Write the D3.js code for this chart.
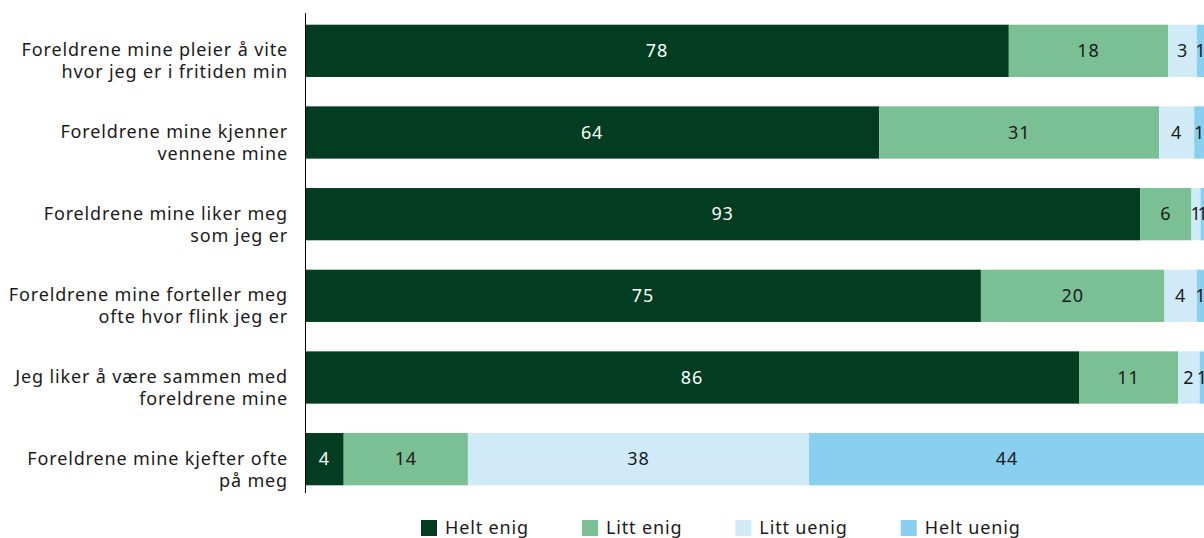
<!DOCTYPE html>
<html>
<head>
<meta charset="utf-8">
<script src="https://cdn.jsdelivr.net/npm/d3@7"></script>
<style>
  body { margin: 0; background: #fff; }
  svg { display: block; font-family: "Noto Sans", sans-serif; letter-spacing: 0.85px; }
</style>
</head>
<body>
<div id="chart"></div>
<script>
// categories (each label split in two lines)
const statements = [
    ["Foreldrene mine pleier å vite", "hvor jeg er i fritiden min"],
    ["Foreldrene mine kjenner", "vennene mine"],
    ["Foreldrene mine liker meg", "som jeg er"],
    ["Foreldrene mine forteller meg", "ofte hvor flink jeg er"],
    ["Jeg liker å være sammen med", "foreldrene mine"],
    ["Foreldrene mine kjefter ofte", "på meg"]
]
const answers = ["Helt enig", "Litt enig", "Litt uenig", "Helt uenig"]
// percentages (labels are rounded)
const heltEnig = [78.2, 63.8, 92.8, 75.1, 86.0, 4.3]
const littEnig = [17.7, 31.1, 5.7, 20.4, 11.0, 13.8]
const littUenig = [3.2, 3.9, 1.0, 3.6, 2.4, 37.9]
const heltUenig = [0.9, 1.2, 0.6, 0.9, 0.6, 44.0]
const colors = ["#023d21", "#7bbf94", "#d0eaf8", "#89cff0"]

var width = 1204
var height = 538
var margin = { top: 10, right: -1, bottom: 40, left: 305 }
var fontSize = "18px"

var svg = d3.select("#chart")
    .append("svg")
    .attr("width", width)
    .attr("height", height)

var series = [heltEnig, littEnig, littUenig, heltUenig]
var rows = statements.map(function (s, i) {
    let x0 = 0
    return series.map(function (vals, k) {
        let seg = { row: i, key: k, value: vals[i], x0: x0, x1: x0 + vals[i] }
        x0 += vals[i]
        return seg
    })
})

var x = d3.scaleLinear()
    .domain([0, 100])
    .range([margin.left, width - margin.right])

var y = d3.scaleBand()
    .domain(d3.range(statements.length))
    .range([margin.top, height - margin.bottom + 2])
    .paddingInner(0.36)
    .paddingOuter(0.18)

// Draw the bars
var rowG = svg.selectAll(".row")
    .data(rows)
    .enter().append("g")
    .attr("class", "row")
    .attr("transform", function (d, i) { return "translate(0," + y(i) + ")" })

rowG.selectAll("rect")
    .data(function (d) { return d })
    .enter().append("rect")
    .attr("x", function (d) { return x(d.x0) })
    .attr("width", function (d) { return x(d.x1) - x(d.x0) })
    .attr("height", y.bandwidth())
    .style("fill", function (d) { return colors[d.key] })

rowG.selectAll("text")
    .data(function (d) { return d })
    .enter().append("text")
    .attr("x", function (d) { return (x(d.x0) + x(d.x1)) / 2 })
    .attr("y", y.bandwidth() / 2)
    .attr("dy", "0.35em")
    .style("text-anchor", "middle")
    .style("font-size", fontSize)
    .style("fill", function (d) { return d.key == 0 ? "#ffffff" : "#1a1a1a" })
    .text(function (d) { return Math.round(d.value) })

// Category labels
var labels = svg.selectAll(".label")
    .data(statements)
    .enter().append("text")
    .attr("class", "label")
    .attr("x", margin.left - 17)
    .attr("y", function (d, i) { return y(i) + y.bandwidth() / 2 })
    .style("text-anchor", "end")
    .style("font-size", fontSize)
    .style("fill", "#1a1a1a")
labels.append("tspan")
    .attr("x", margin.left - 17)
    .attr("dy", "0.3em")
    .text(function (d) { return d[0] })
labels.append("tspan")
    .attr("x", margin.left - 17)
    .attr("dy", 22)
    .text(function (d) { return d[1] })

// y axis line
svg.append("line")
    .attr("x1", margin.left + 0.5)
    .attr("x2", margin.left + 0.5)
    .attr("y1", 13)
    .attr("y2", 493)
    .style("stroke", "#000")
    .style("stroke-width", "1px")

// Legend
var legend = svg.append("g")
    .attr("transform", "translate(421,520)")
var lx = 0
answers.forEach(function (a, k) {
    var item = legend.append("g").attr("transform", "translate(" + lx + ",0)")
    item.append("rect")
        .attr("width", 16)
        .attr("height", 16)
        .style("fill", colors[k])
    var t = item.append("text")
        .attr("x", 24)
        .attr("y", 8)
        .attr("dy", "0.35em")
        .style("font-size", fontSize)
        .style("fill", "#1a1a1a")
        .text(a)
    lx += 24 + t.node().getComputedTextLength() + 53
})
</script>
</body>
</html>
